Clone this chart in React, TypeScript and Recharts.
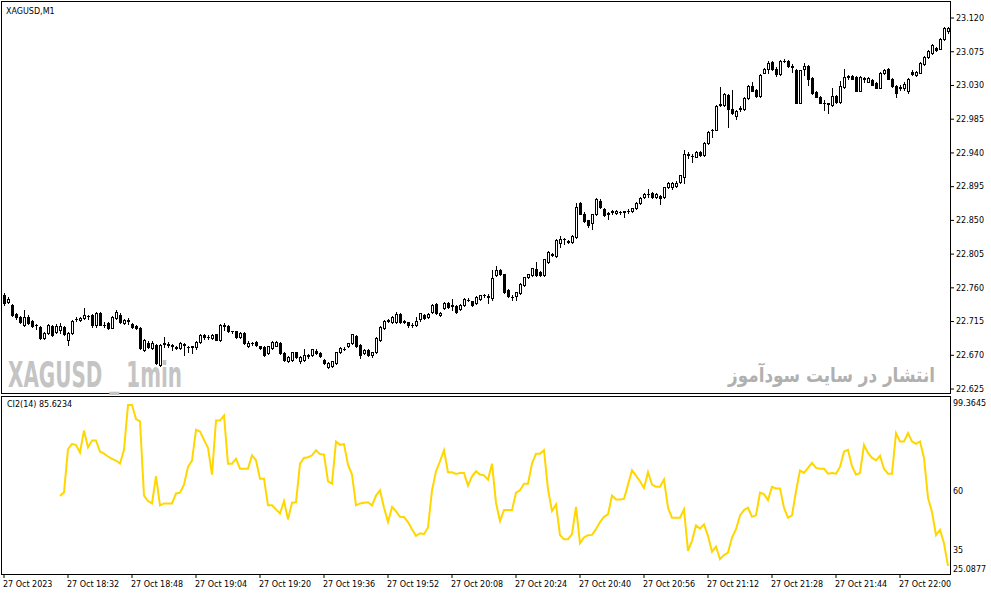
import { ComposedChart, Bar, Line, XAxis, YAxis } from 'recharts'

// XAGUSD M1, 27 Oct 2023 18:16 .. 22:12
const opens = [
  22.750, 22.741, 22.737, 22.725, 22.721, 22.710, 22.721, 22.716, 22.710, 22.708,
  22.693, 22.700, 22.709, 22.701, 22.704, 22.708, 22.690, 22.700, 22.718, 22.717,
  22.720, 22.722, 22.724, 22.710, 22.726, 22.711, 22.713, 22.707, 22.720, 22.724,
  22.713, 22.717, 22.712, 22.709, 22.706, 22.677, 22.686, 22.680, 22.684, 22.657,
  22.685, 22.684, 22.683, 22.681, 22.680, 22.685, 22.681, 22.681, 22.681, 22.688,
  22.697, 22.694, 22.693, 22.698, 22.690, 22.710, 22.709, 22.702, 22.702, 22.694,
  22.700, 22.682, 22.686, 22.688, 22.682, 22.681, 22.673, 22.680, 22.683, 22.687,
  22.673, 22.662, 22.664, 22.674, 22.662, 22.664, 22.669, 22.670, 22.676, 22.673,
  22.664, 22.654, 22.656, 22.660, 22.674, 22.679, 22.682, 22.686, 22.696, 22.684,
  22.673, 22.677, 22.670, 22.674, 22.690, 22.706, 22.716, 22.714, 22.714, 22.725,
  22.716, 22.714, 22.710, 22.711, 22.718, 22.724, 22.721, 22.728, 22.738, 22.724,
  22.733, 22.740, 22.737, 22.736, 22.732, 22.737, 22.744, 22.742, 22.740, 22.745,
  22.750, 22.748, 22.746, 22.777, 22.784, 22.778, 22.757, 22.748, 22.749, 22.753,
  22.764, 22.774, 22.777, 22.785, 22.781, 22.777, 22.794, 22.804, 22.802, 22.820,
  22.825, 22.823, 22.821, 22.828, 22.873, 22.859, 22.850, 22.846, 22.858, 22.876,
  22.865, 22.860, 22.861, 22.860, 22.861, 22.861, 22.862, 22.862, 22.866, 22.873,
  22.881, 22.885, 22.886, 22.881, 22.883, 22.881, 22.894, 22.894, 22.896, 22.901,
  22.908, 22.938, 22.936, 22.935, 22.941, 22.937, 22.953, 22.970, 22.971, 23.004,
  23.004, 23.017, 22.999, 22.989, 22.999, 22.998, 23.013, 23.029, 23.024, 23.016,
  23.047, 23.052, 23.061, 23.052, 23.045, 23.063, 23.062, 23.056, 23.051, 23.007,
  23.052, 23.056, 23.040, 23.021, 23.015, 23.007, 23.006, 23.004, 23.016, 23.008,
  23.028, 23.041, 23.042, 23.041, 23.023, 23.039, 23.035, 23.037, 23.033, 23.027,
  23.046, 23.052, 23.039, 23.029, 23.027, 23.026, 23.022, 23.048, 23.044, 23.047,
  23.058, 23.068, 23.073, 23.080, 23.079, 23.092, 23.103,
]

const highs = [
  22.753, 22.748, 22.738, 22.726, 22.722, 22.730, 22.724, 22.717, 22.712, 22.709,
  22.701, 22.712, 22.710, 22.712, 22.713, 22.709, 22.701, 22.717, 22.721, 22.721,
  22.733, 22.724, 22.725, 22.728, 22.728, 22.714, 22.714, 22.722, 22.730, 22.726,
  22.718, 22.720, 22.713, 22.710, 22.708, 22.692, 22.689, 22.689, 22.685, 22.685,
  22.694, 22.688, 22.685, 22.682, 22.688, 22.686, 22.682, 22.682, 22.689, 22.698,
  22.698, 22.697, 22.699, 22.699, 22.712, 22.713, 22.710, 22.703, 22.703, 22.701,
  22.701, 22.689, 22.688, 22.689, 22.683, 22.682, 22.683, 22.689, 22.689, 22.688,
  22.674, 22.669, 22.675, 22.675, 22.669, 22.678, 22.672, 22.679, 22.679, 22.674,
  22.665, 22.661, 22.663, 22.675, 22.681, 22.681, 22.687, 22.699, 22.697, 22.685,
  22.679, 22.678, 22.675, 22.694, 22.709, 22.717, 22.718, 22.722, 22.728, 22.726,
  22.717, 22.715, 22.713, 22.721, 22.727, 22.725, 22.726, 22.738, 22.740, 22.728,
  22.741, 22.741, 22.745, 22.737, 22.738, 22.746, 22.747, 22.743, 22.749, 22.751,
  22.752, 22.752, 22.784, 22.789, 22.785, 22.779, 22.758, 22.750, 22.755, 22.766,
  22.775, 22.779, 22.787, 22.794, 22.782, 22.799, 22.809, 22.807, 22.825, 22.829,
  22.826, 22.824, 22.830, 22.873, 22.875, 22.861, 22.851, 22.859, 22.880, 22.878,
  22.867, 22.861, 22.864, 22.864, 22.862, 22.863, 22.865, 22.867, 22.874, 22.881,
  22.886, 22.892, 22.888, 22.886, 22.884, 22.895, 22.901, 22.901, 22.902, 22.911,
  22.944, 22.941, 22.939, 22.943, 22.943, 22.954, 22.969, 22.972, 23.004, 23.028,
  23.020, 23.018, 23.024, 22.997, 23.003, 23.014, 23.030, 23.035, 23.025, 23.045,
  23.053, 23.063, 23.063, 23.055, 23.064, 23.065, 23.064, 23.058, 23.052, 23.051,
  23.060, 23.057, 23.041, 23.022, 23.016, 23.011, 23.007, 23.027, 23.017, 23.036,
  23.052, 23.044, 23.044, 23.043, 23.042, 23.041, 23.041, 23.038, 23.034, 23.048,
  23.052, 23.053, 23.040, 23.030, 23.030, 23.034, 23.040, 23.050, 23.049, 23.061,
  23.069, 23.077, 23.085, 23.081, 23.093, 23.108, 23.108,
]

const lows = [
  22.737, 22.740, 22.722, 22.718, 22.713, 22.709, 22.712, 22.708, 22.705, 22.692,
  22.692, 22.698, 22.696, 22.700, 22.700, 22.697, 22.684, 22.698, 22.716, 22.716,
  22.718, 22.718, 22.708, 22.708, 22.710, 22.708, 22.705, 22.706, 22.718, 22.713,
  22.712, 22.712, 22.706, 22.705, 22.678, 22.676, 22.680, 22.678, 22.658, 22.656,
  22.681, 22.681, 22.677, 22.678, 22.678, 22.670, 22.674, 22.673, 22.678, 22.686,
  22.692, 22.692, 22.692, 22.690, 22.689, 22.704, 22.701, 22.700, 22.693, 22.693,
  22.685, 22.681, 22.684, 22.683, 22.679, 22.669, 22.672, 22.679, 22.682, 22.672,
  22.663, 22.661, 22.663, 22.666, 22.660, 22.663, 22.667, 22.669, 22.672, 22.668,
  22.659, 22.653, 22.654, 22.659, 22.673, 22.677, 22.681, 22.685, 22.681, 22.666,
  22.672, 22.669, 22.668, 22.673, 22.689, 22.705, 22.714, 22.713, 22.713, 22.713,
  22.713, 22.708, 22.708, 22.709, 22.716, 22.719, 22.720, 22.727, 22.725, 22.723,
  22.732, 22.733, 22.730, 22.727, 22.731, 22.736, 22.743, 22.736, 22.739, 22.744,
  22.748, 22.740, 22.744, 22.776, 22.777, 22.753, 22.748, 22.744, 22.744, 22.752,
  22.763, 22.773, 22.776, 22.776, 22.776, 22.776, 22.793, 22.802, 22.801, 22.814,
  22.818, 22.820, 22.820, 22.827, 22.858, 22.848, 22.841, 22.838, 22.857, 22.867,
  22.856, 22.852, 22.858, 22.859, 22.858, 22.855, 22.860, 22.861, 22.865, 22.872,
  22.880, 22.881, 22.880, 22.880, 22.872, 22.880, 22.893, 22.892, 22.895, 22.900,
  22.900, 22.933, 22.928, 22.934, 22.936, 22.936, 22.952, 22.961, 22.970, 23.003,
  23.003, 22.975, 22.992, 22.985, 22.996, 22.997, 23.012, 23.022, 23.015, 23.015,
  23.046, 23.047, 23.051, 23.043, 23.044, 23.061, 23.055, 23.048, 23.006, 23.006,
  23.044, 23.031, 23.019, 23.014, 23.006, 22.997, 22.993, 23.003, 23.007, 23.007,
  23.027, 23.039, 23.038, 23.022, 23.022, 23.035, 23.034, 23.030, 23.026, 23.026,
  23.045, 23.038, 23.028, 23.015, 23.024, 23.024, 23.020, 23.044, 23.043, 23.046,
  23.057, 23.067, 23.072, 23.076, 23.078, 23.091, 23.100,
]

const closes = [
  22.740, 22.745, 22.724, 22.721, 22.714, 22.721, 22.713, 22.709, 22.711, 22.693,
  22.700, 22.710, 22.697, 22.709, 22.709, 22.698, 22.700, 22.716, 22.719, 22.720,
  22.724, 22.722, 22.710, 22.726, 22.711, 22.710, 22.706, 22.721, 22.728, 22.714,
  22.717, 22.716, 22.708, 22.706, 22.680, 22.690, 22.681, 22.686, 22.660, 22.684,
  22.686, 22.685, 22.684, 22.680, 22.686, 22.684, 22.681, 22.682, 22.688, 22.697,
  22.694, 22.695, 22.697, 22.691, 22.710, 22.709, 22.702, 22.702, 22.694, 22.700,
  22.686, 22.686, 22.686, 22.684, 22.680, 22.670, 22.682, 22.688, 22.688, 22.673,
  22.664, 22.668, 22.674, 22.668, 22.668, 22.670, 22.670, 22.678, 22.673, 22.669,
  22.660, 22.660, 22.662, 22.674, 22.680, 22.679, 22.686, 22.698, 22.682, 22.670,
  22.677, 22.670, 22.674, 22.693, 22.708, 22.716, 22.717, 22.721, 22.725, 22.714,
  22.714, 22.710, 22.711, 22.716, 22.726, 22.720, 22.725, 22.737, 22.726, 22.727,
  22.740, 22.734, 22.736, 22.728, 22.737, 22.745, 22.744, 22.737, 22.748, 22.750,
  22.750, 22.749, 22.773, 22.784, 22.778, 22.754, 22.749, 22.748, 22.754, 22.765,
  22.774, 22.778, 22.786, 22.777, 22.777, 22.798, 22.808, 22.805, 22.824, 22.825,
  22.825, 22.821, 22.829, 22.868, 22.859, 22.849, 22.844, 22.858, 22.879, 22.868,
  22.857, 22.859, 22.862, 22.862, 22.861, 22.862, 22.863, 22.866, 22.873, 22.880,
  22.885, 22.885, 22.881, 22.885, 22.880, 22.894, 22.900, 22.900, 22.900, 22.910,
  22.939, 22.937, 22.936, 22.941, 22.937, 22.953, 22.968, 22.971, 23.003, 23.005,
  23.019, 22.999, 22.993, 22.996, 23.000, 23.013, 23.029, 23.023, 23.016, 23.044,
  23.052, 23.060, 23.052, 23.045, 23.063, 23.063, 23.056, 23.055, 23.007, 23.050,
  23.056, 23.039, 23.020, 23.015, 23.007, 23.006, 23.005, 23.016, 23.008, 23.029,
  23.041, 23.042, 23.039, 23.023, 23.041, 23.040, 23.040, 23.031, 23.027, 23.047,
  23.051, 23.039, 23.029, 23.020, 23.028, 23.032, 23.038, 23.045, 23.048, 23.060,
  23.068, 23.076, 23.084, 23.077, 23.092, 23.107, 23.107,
]

// CI2(14) starts on the 15th bar
const ciStart = 14
const ciValues = [
  57.8, 59.4, 77.5, 79.7, 79.2, 76.1, 85.3, 78.2, 81.1, 81.1,
  76.5, 75.6, 74.4, 73.4, 72.7, 71.4, 77.2, 96.0, 96.0, 90.1,
  89.1, 58.0, 55.7, 54.7, 66.1, 53.9, 54.7, 54.7, 54.7, 58.9,
  59.2, 62.6, 70.0, 72.7, 85.6, 84.9, 81.4, 78.0, 66.8, 89.5,
  89.5, 91.6, 71.4, 71.4, 73.5, 69.3, 69.3, 69.3, 74.9, 72.8,
  65.1, 65.1, 53.9, 53.9, 52.2, 50.5, 55.7, 48.0, 55.0, 55.2,
  71.4, 73.8, 74.1, 74.9, 77.0, 75.4, 75.2, 64.0, 63.0, 80.7,
  79.3, 79.6, 71.0, 66.8, 53.9, 54.7, 55.0, 55.2, 53.9, 58.0,
  60.2, 52.9, 46.9, 53.2, 51.5, 49.1, 49.0, 46.9, 43.9, 41.1,
  42.2, 41.8, 44.6, 60.2, 68.2, 72.4, 77.0, 67.8, 67.8, 67.1,
  67.5, 67.5, 62.2, 66.1, 68.2, 66.8, 66.5, 64.7, 71.4, 55.0,
  47.3, 51.9, 51.9, 51.9, 59.2, 60.2, 63.0, 63.0, 71.4, 75.6,
  75.6, 77.0, 60.6, 51.5, 54.3, 41.4, 39.7, 39.7, 41.8, 53.3,
  38.0, 40.4, 41.4, 41.5, 43.9, 46.9, 49.1, 50.1, 58.0, 56.4,
  56.4, 56.6, 62.6, 68.6, 66.4, 64.0, 61.2, 67.8, 62.6, 61.7,
  61.7, 64.7, 52.9, 48.7, 48.7, 48.7, 52.2, 34.8, 39.0, 45.5,
  44.1, 45.9, 41.1, 34.4, 36.6, 31.3, 33.0, 34.1, 40.4, 43.9,
  49.7, 51.9, 52.9, 49.1, 49.7, 59.2, 58.6, 56.1, 61.7, 61.0,
  61.0, 52.9, 48.7, 49.7, 59.8, 68.6, 67.5, 69.6, 71.7, 69.6,
  69.3, 69.3, 67.2, 67.5, 67.2, 70.0, 76.5, 77.2, 70.3, 66.8,
  67.5, 79.3, 75.9, 73.8, 72.8, 74.7, 69.2, 67.2, 67.2, 84.2,
  80.7, 80.7, 84.2, 80.7, 79.7, 80.7, 73.8, 57.1, 51.1, 41.4,
  43.6, 38.0, 28.5,
]

const priceTicks = [22.625, 22.67, 22.715, 22.76, 22.805, 22.85, 22.895, 22.94, 22.985, 23.03, 23.075, 23.12]
const ciTicks = [25.0877, 35, 60, 99.3645]
const tickTimes = ['18:16', '18:32', '18:48', '19:04', '19:20', '19:36', '19:52', '20:08', '20:24', '20:40', '20:56', '21:12', '21:28', '21:44', '22:00']
const tickLabels = ['27 Oct 2023', '27 Oct 18:32', '27 Oct 18:48', '27 Oct 19:04', '27 Oct 19:20', '27 Oct 19:36', '27 Oct 19:52', '27 Oct 20:08', '27 Oct 20:24', '27 Oct 20:40', '27 Oct 20:56', '27 Oct 21:12', '27 Oct 21:28', '27 Oct 21:44', '27 Oct 22:00']

const firstMinute = 18 * 60 + 16
const font = 'DejaVu Sans, sans-serif'

const rows = opens.map((o, i) => {
  const m = firstMinute + i
  return {
    t: `${Math.floor(m / 60)}:${String(m % 60).padStart(2, '0')}`,
    o,
    h: highs[i],
    l: lows[i],
    c: closes[i],
    range: [lows[i], highs[i]],
    ci: i >= ciStart ? ciValues[i - ciStart] : null,
  }
})

function Candle(props: any) {
  const { x, y, width, height, payload } = props
  if (!payload) return null
  const { o, h, l, c } = payload
  const yOf = (v: number) => y + ((h - v) / (h - l)) * height
  const cx = Math.round(x + width / 2)
  const yHigh = Math.round(yOf(h))
  const yLow = Math.round(yOf(l))
  const yTop = Math.round(yOf(Math.max(o, c)))
  const yBot = Math.round(yOf(Math.min(o, c)))
  return (
    <g shapeRendering="crispEdges">
      <line x1={cx + 0.5} x2={cx + 0.5} y1={yHigh} y2={yLow + 1} stroke="#000" />
      {yBot - yTop < 1 ? (
        <line x1={cx - 1} x2={cx + 2} y1={yTop + 0.5} y2={yTop + 0.5} stroke="#000" />
      ) : (
        <rect x={cx - 0.5} y={yTop + 0.5} width={2} height={yBot - yTop} fill={c >= o ? '#fff' : '#000'} stroke="#000" />
      )}
    </g>
  )
}

function TimeTick({ x, y, payload }: any) {
  const label = tickLabels[tickTimes.indexOf(payload.value)]
  return (
    <text x={x - 1} y={y} dy={7} fontSize={8} fontFamily={font} fill="#000" textAnchor="start">
      {label}
    </text>
  )
}

function CiTick({ y, payload }: any) {
  const v = payload.value
  const shift = v === 99.3645 ? 6 : v === 25.0877 ? -5 : 0
  return (
    <text x={953} y={y + shift} dy={3} fontSize={8} fontFamily={font} fill="#000" textAnchor="start">
      {v === 99.3645 || v === 25.0877 ? v.toFixed(4) : String(v)}
    </text>
  )
}

export default function App() {
  return (
    <div style={{ position: 'absolute', left: 0, top: 0, width: 991, height: 596, background: '#fff' }}>
      <div style={{ position: 'absolute', left: 0, top: 0 }}>
        <ComposedChart width={991} height={396} data={rows} margin={{ top: 1, right: 0, bottom: 3, left: 2 }} barCategoryGap={0}>
          <XAxis dataKey="t" hide />
          <YAxis
            orientation="right"
            width={41}
            type="number"
            domain={[22.6197, 23.1427]}
            allowDataOverflow
            ticks={priceTicks}
            interval={0}
            tickFormatter={(v: number) => v.toFixed(3)}
            tick={{ fontSize: 8, fill: '#000', fontFamily: font }}
            tickSize={4}
            tickMargin={2}
            axisLine={false}
            tickLine={{ stroke: '#000' }}
          />
          <Bar dataKey="range" shape={<Candle />} isAnimationActive={false} />
        </ComposedChart>
      </div>
      <div style={{ position: 'absolute', left: 0, top: 396 }}>
        <ComposedChart width={991} height={200} data={rows} margin={{ top: 1, right: 0, bottom: 0, left: 2 }}>
          <XAxis
            dataKey="t"
            scale="band"
            ticks={tickTimes}
            interval={0}
            height={22}
            tick={<TimeTick />}
            tickSize={4}
            axisLine={false}
            tickLine={{ stroke: '#000' }}
          />
          <YAxis
            orientation="right"
            width={41}
            type="number"
            domain={[25.0877, 99.3645]}
            allowDataOverflow
            ticks={ciTicks}
            interval={0}
            tick={<CiTick />}
            tickLine={false}
            axisLine={false}
          />
          <Line dataKey="ci" stroke="#FFD700" strokeWidth={2} dot={false} isAnimationActive={false} />
        </ComposedChart>
      </div>
      <svg width={991} height={596} style={{ position: 'absolute', left: 0, top: 0, pointerEvents: 'none' }}>
        <g shapeRendering="crispEdges" fill="none" stroke="#000">
          <rect x={1.5} y={1.5} width={949} height={392} />
          <rect x={1.5} y={396.5} width={949} height={178} />
        </g>
        <text x={6} y={14} fontSize={8} fontFamily={font} fill="#000">XAGUSD,M1</text>
        <text x={7} y={407} fontSize={8} fontFamily={font} fill="#000">CI2(14) 85.6234</text>
        <text x={8} y={387} fontSize={36} fontWeight="bold" fontFamily={font} fill="#c4c4c4" textLength={174} lengthAdjust="spacingAndGlyphs">
          XAGUSD _ 1min
        </text>
        <text x={728} y={382} fontSize={20} fontWeight="bold" fontFamily={font} fill="#b0b0b0" textLength={207} lengthAdjust="spacingAndGlyphs">
          انتشار در سایت سودآموز
        </text>
      </svg>
    </div>
  )
}
